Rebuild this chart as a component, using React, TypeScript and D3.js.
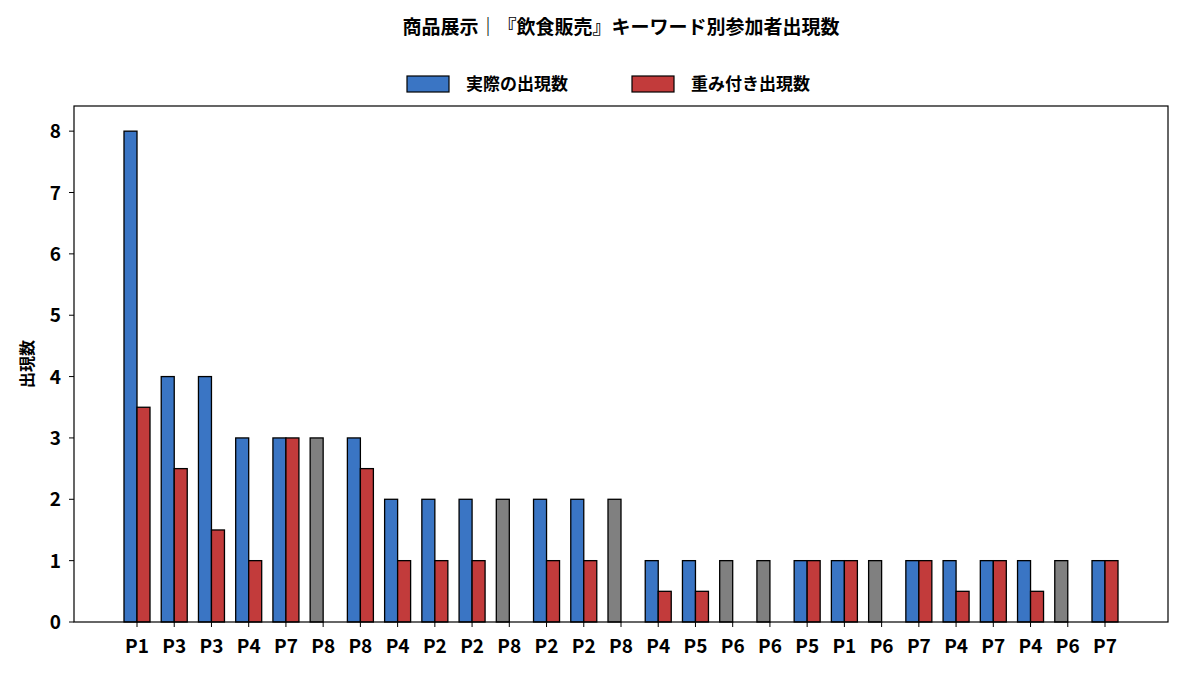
import React from "react";
import * as d3 from "d3";

const categories = ["P1","P3","P3","P4","P7","P8","P8","P4","P2","P2","P8","P2","P2","P8","P4","P5","P6","P6","P5","P1","P6","P7","P4","P7","P4","P6","P7"];
const actual = [8,4,4,3,3,3,3,2,2,2,2,2,2,2,1,1,1,1,1,1,1,1,1,1,1,1,1];
const weighted = [3.5,2.5,1.5,1,3,0,2.5,1,1,1,0,1,1,0,0.5,0.5,0,0,1,1,0,1,0.5,1,0.5,0,1];
const yTicks = [0,1,2,3,4,5,6,7,8];

const W = 1183, H = 673;
const L = 74, R = 1168, T = 106, B = 622;
const font = "'Noto Sans CJK JP', 'Noto Sans', sans-serif";

export default function App() {
  const idx = categories.map((_, i) => i);
  const x = d3.scalePoint<number>().domain(idx).range([L + 63, R - 63]);
  const y = d3.scaleLinear().domain([0, 8.41]).range([B, T]);
  const bw = 13;
  return (
    <svg width={W} height={H} style={{ position: "absolute", left: 0, top: 0 }} fontFamily={font} fontWeight="bold">
      <text x={621} y={34} textAnchor="middle" fontSize={19}>商品展示｜『飲食販売』キーワード別参加者出現数</text>
      <rect x={407} y={76} width={42} height={16} fill="#3a75c4" stroke="#000" strokeWidth={1.2} />
      <text x={466} y={90} fontSize={17}>実際の出現数</text>
      <rect x={632} y={76} width={42} height={16} fill="#c23b3b" stroke="#000" strokeWidth={1.2} />
      <text x={691} y={90} fontSize={17}>重み付き出現数</text>
      {idx.map(i => {
        const cx = x(i)!;
        const gray = weighted[i] === 0;
        return (
          <g key={i}>
            <rect x={cx - bw} y={y(actual[i])} width={bw} height={B - y(actual[i])} fill={gray ? "#808080" : "#3a75c4"} stroke="#000" strokeWidth={1.3} />
            <rect x={cx} y={y(weighted[i])} width={bw} height={B - y(weighted[i])} fill="#c23b3b" stroke="#000" strokeWidth={1.3} />
            <line x1={cx} x2={cx} y1={B} y2={B + 5} stroke="#000" />
            <text x={cx} y={B + 31} textAnchor="middle" fontSize={19}>{categories[i]}</text>
          </g>
        );
      })}
      {yTicks.map(t => (
        <g key={t}>
          <line x1={L - 5} x2={L} y1={y(t)} y2={y(t)} stroke="#000" />
          <text x={L - 13} y={y(t) + 7} textAnchor="end" fontSize={19}>{t}</text>
        </g>
      ))}
      <rect x={L} y={T} width={R - L} height={B - T} fill="none" stroke="#000" strokeWidth={1.2} />
      <text transform={`translate(33,${(T + B) / 2}) rotate(-90)`} textAnchor="middle" fontSize={16}>出現数</text>
    </svg>
  );
}
